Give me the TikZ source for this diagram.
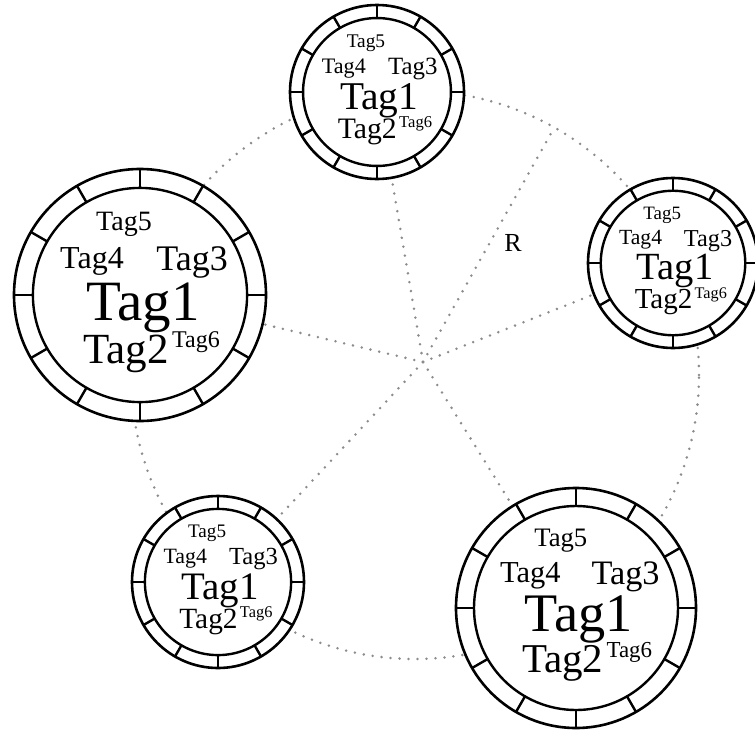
\documentclass[tikz,border=0pt]{standalone}
\usepackage{fontspec}
\setmainfont{Liberation Serif}
\begin{document}
\begin{tikzpicture}[x=1pt,y=-1pt,
  ring/.style={circle,draw,fill=white,line width=2.6pt,inner sep=0pt,outer sep=0pt},
  ringline/.style={line width=2.4pt},
  dotline/.style={draw=gray!90,line width=2.8pt,line cap=round,dash pattern=on 0pt off 9pt},
  tagtext/.style={anchor=base,inner sep=0pt}]
\newcommand\tagcloud[4]{%
  % #1 name, (#2,#3) centre, #4 outer radius
  \pgfmathsetmacro\cs{#4/126}%
  \pgfmathsetmacro\fone{57*\cs}%
  \pgfmathsetmacro\ftwo{43*\cs}%
  \pgfmathsetmacro\fthree{36*\cs}%
  \pgfmathsetmacro\ffour{32*\cs}%
  \pgfmathsetmacro\ffive{28*\cs}%
  \pgfmathsetmacro\fsix{24*\cs}%
  \begin{scope}[shift={(#2,#3)}]
    \node[ring,minimum size={2*#4pt}] (#1) at (0,0) {};
    \draw[ringline] (0,0) circle[radius={0.85*#4pt}];
    \foreach \a in {0,30,...,330}
      \draw[ringline] (\a:{0.85*#4pt}) -- (\a:{#4pt});
    \node[tagtext,font=\fontsize{\ffive}{\ffive}\selectfont] (#1-t5) at ({-16*\cs},{-65*\cs}) {Tag5};
    \node[tagtext,font=\fontsize{\ffour}{\ffour}\selectfont] (#1-t4) at ({-48*\cs},{-27*\cs}) {Tag4};
    \node[tagtext,font=\fontsize{\fthree}{\fthree}\selectfont] (#1-t3) at ({52*\cs},{-25*\cs}) {Tag3};
    \node[tagtext,font=\fontsize{\fone}{\fone}\selectfont] (#1-t1) at ({3*\cs},{25*\cs}) {Tag1};
    \node[tagtext,font=\fontsize{\ftwo}{\ftwo}\selectfont] (#1-t2) at ({-14*\cs},{68*\cs}) {Tag2};
    \node[tagtext,font=\fontsize{\fsix}{\fsix}\selectfont] (#1-t6) at ({56*\cs},{52*\cs}) {Tag6};
  \end{scope}}
\useasboundingbox (0,0) rectangle (755,731);
\clip (0,0) rectangle (755,731);
% orbit through the clouds
\coordinate (ctr) at (415,375);
\draw[dotline] (ctr) circle[radius=284pt];
% the five tag clouds
\tagcloud{top}{377}{92}{87}
\tagcloud{left}{140}{295}{126}
\tagcloud{right}{673}{263}{85}
\tagcloud{botleft}{218}{582}{86}
\tagcloud{botright}{576}{608}{120}
% spokes from the hub
\coordinate (hub) at (423,362);
\coordinate (rim) at (554,128);
\foreach \n in {top,left,right,botleft,botright}
  \draw[dotline] (hub) -- (\n);
\draw[dotline] (hub) -- (rim);
\node[font=\fontsize{26}{26}\selectfont,anchor=base] (rlabel) at (513,251) {R};
\end{tikzpicture}
\end{document}
